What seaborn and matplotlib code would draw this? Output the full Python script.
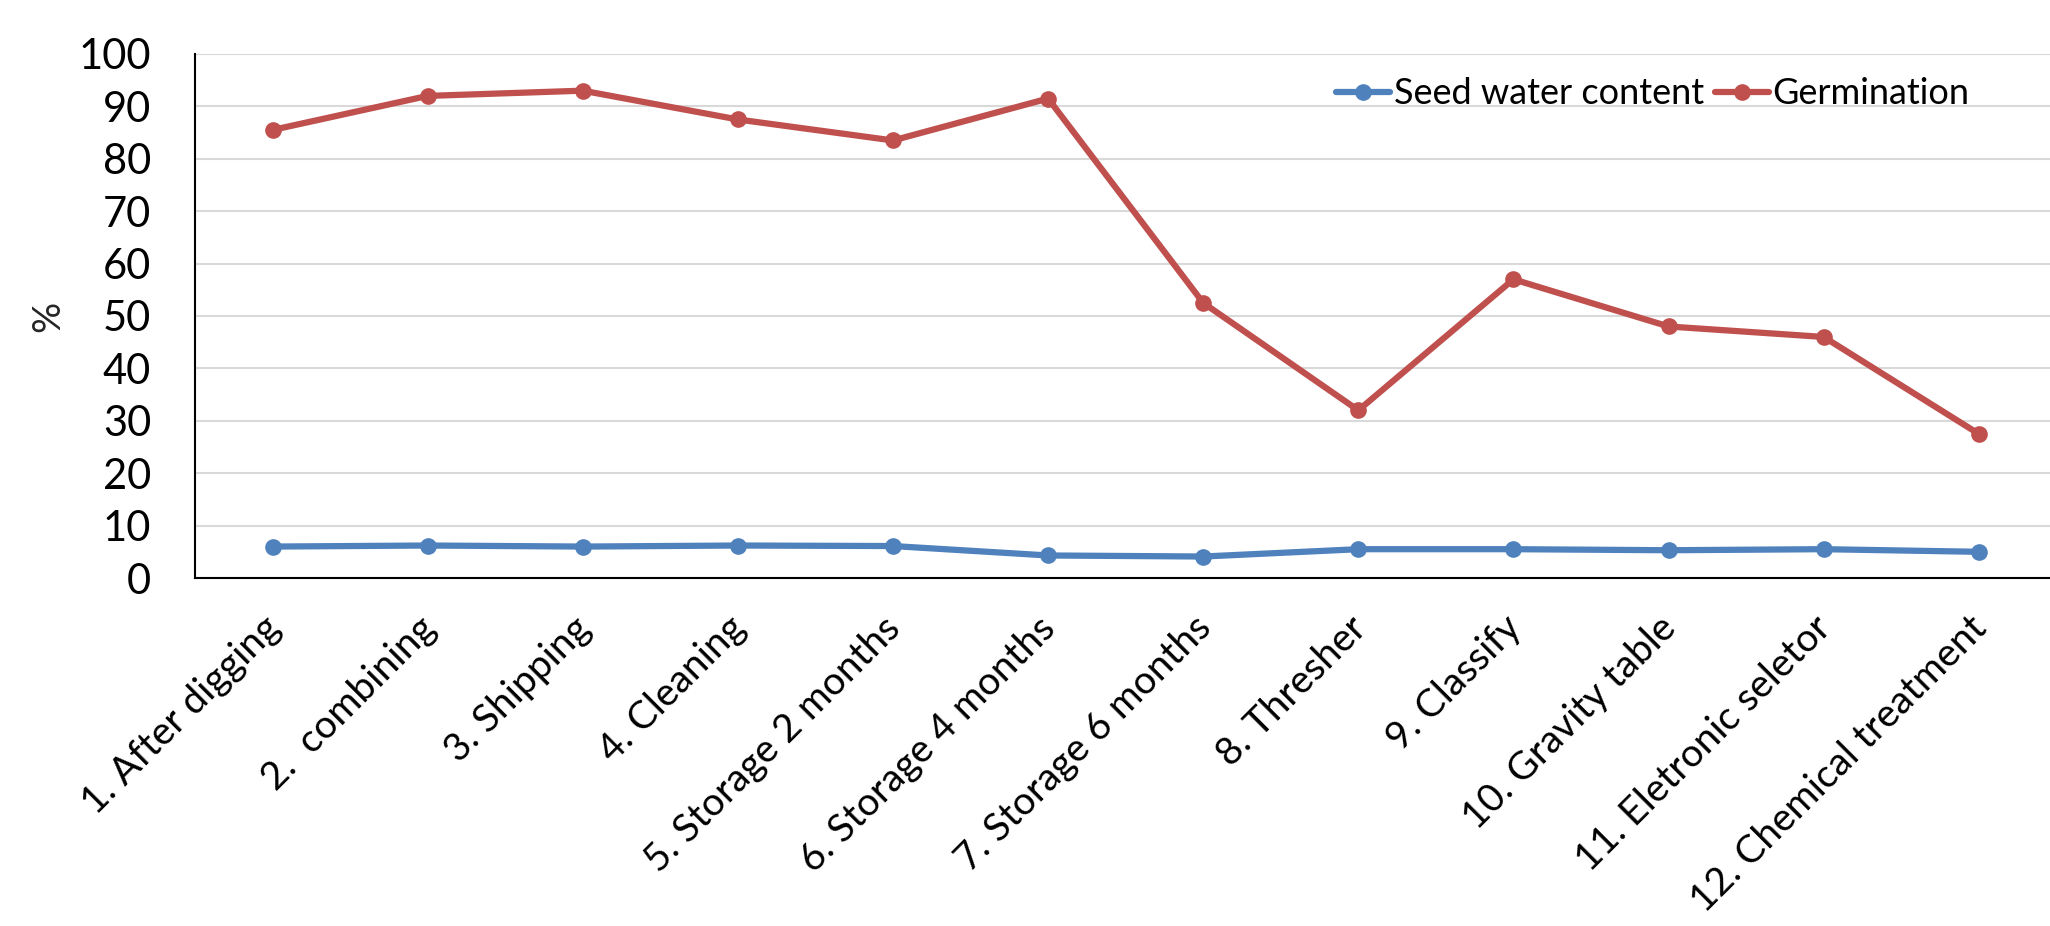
import numpy as np
import pandas as pd
import matplotlib
matplotlib.use("Agg")
import matplotlib.pyplot as plt
import matplotlib.transforms as mtransforms
import seaborn as sns

# données
stages = ["1. After digging", "2.  combining", "3. Shipping", "4. Cleaning",
          "5. Storage 2 months", "6. Storage 4 months", "7. Storage 6 months",
          "8. Thresher", "9. Classify", "10. Gravity table",
          "11. Eletronic seletor", "12. Chemical treatment"]
water_content = [6.0, 6.2, 6.0, 6.2, 6.1, 4.3, 4.1, 5.5, 5.5, 5.3, 5.5, 5.0]
germination = [85.5, 92.0, 93.0, 87.5, 83.5, 91.5, 52.5, 32.0, 57.0, 48.0, 46.0, 27.5]
series_names = ["Seed water content", "Germination"]
colors = ["#4F81BD", "#C0504D"]
y_ticks = list(range(0, 101, 10))

sns.set_style("white")
plt.rcParams["font.family"] = ["Lato", "DejaVu Sans"]
plt.rcParams["text.color"] = "black"
plt.rcParams["xtick.color"] = "black"
plt.rcParams["ytick.color"] = "black"

pos = np.arange(len(stages))
df = pd.DataFrame({
    "pos": np.concatenate([pos, pos]),
    "value": water_content + germination,
    "series": [series_names[0]] * len(stages) + [series_names[1]] * len(stages),
})

fig = plt.figure(figsize=(20.5, 9.26), dpi=100)
ax = fig.add_axes([0.0951, 0.3758, 0.908, 0.5659])

sns.lineplot(data=df, x="pos", y="value", hue="series", hue_order=series_names,
             palette=colors, marker="o", markersize=12, markeredgewidth=0,
             linewidth=4.5, sort=False, ax=ax, legend=True)

ax.set_xlim(-0.5, len(stages) - 0.5)
ax.set_ylim(0, 100)
ax.set_yticks(y_ticks)
ax.tick_params(axis="y", direction="inout", length=19, width=1.5, labelsize=30, pad=22)

ax.set_xticks(pos)
ax.set_xticklabels(stages, rotation=45, ha="right", va="center",
                   rotation_mode="anchor", fontsize=28)
ax.set_xticks(np.arange(len(stages) + 1) - 0.5, minor=True)
ax.tick_params(axis="x", which="major", length=0, pad=32)
ax.tick_params(axis="x", which="minor", direction="inout", length=19, width=1.5)
# petit décalage vers la droite des étiquettes inclinées
shift = mtransforms.ScaledTranslation(0.02, 0, fig.dpi_scale_trans)
for lab in ax.get_xticklabels():
    lab.set_transform(lab.get_transform() + shift)

ax.yaxis.grid(True, color="#D9D9D9", linewidth=1.5)
ax.set_axisbelow(True)
for s in ["top", "right"]:
    ax.spines[s].set_visible(False)
for s in ["left", "bottom"]:
    ax.spines[s].set_linewidth(1.5)
    ax.spines[s].set_color("black")

ax.set_xlabel("")
ax.set_ylabel("%", fontsize=28, labelpad=9)

handles, labels = ax.get_legend_handles_labels()
ax.legend(handles, labels, ncol=2, frameon=False, fontsize=26,
          loc="center left", bbox_to_anchor=(0.613, 0.924),
          borderpad=0, borderaxespad=0,
          handlelength=1.5, handletextpad=0.1, columnspacing=0.3)

fig.savefig("out.png", dpi=100)
